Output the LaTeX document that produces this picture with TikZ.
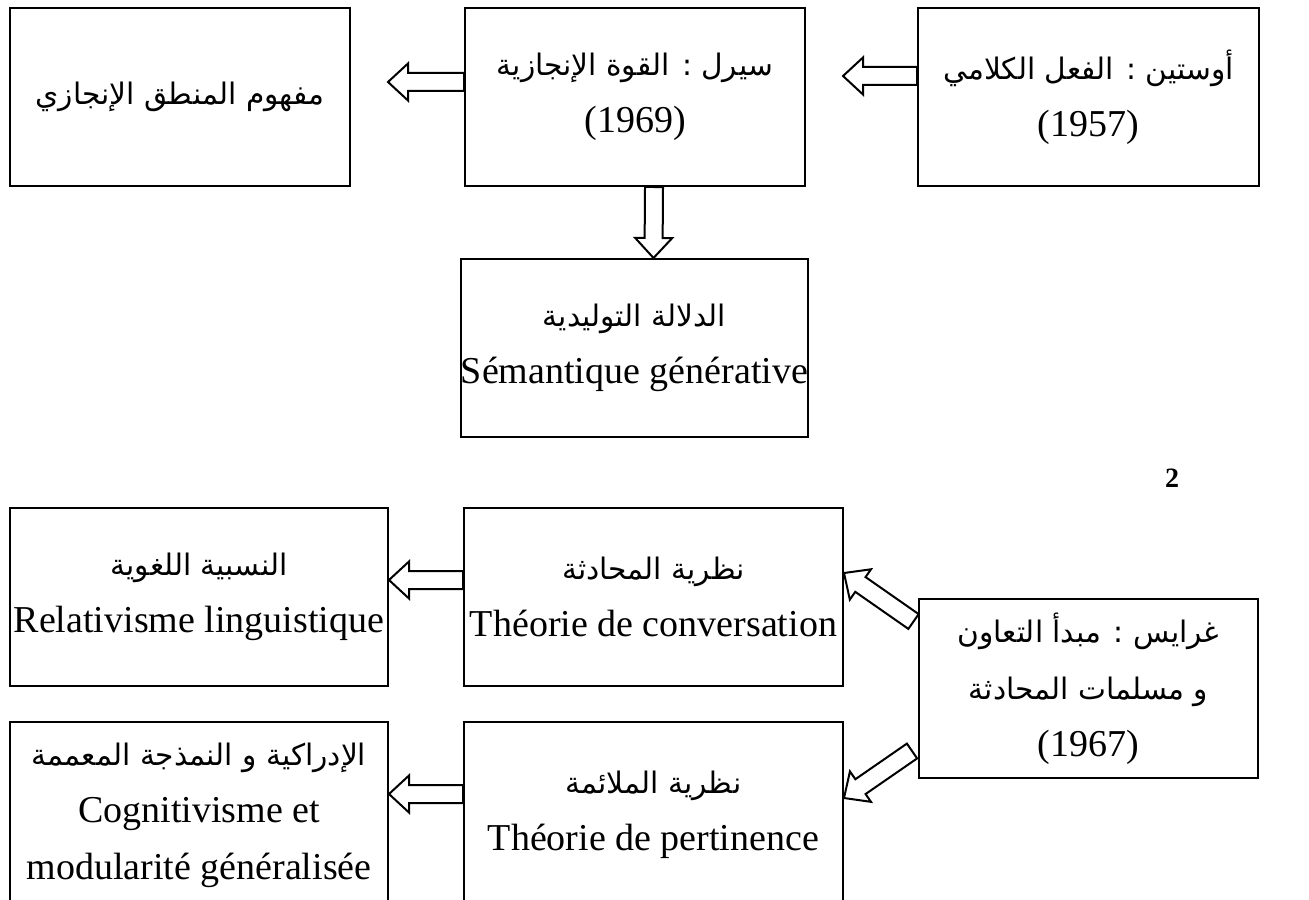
\documentclass[tikz,border=0pt]{standalone}
\usepackage{fontspec}
\setmainfont{Liberation Serif}
\newfontfamily\arabicfont[Script=Arabic,Scale=0.78]{DejaVu Sans}
\TeXXeTstate=1
\usetikzlibrary{calc}

\newcommand{\artext}[1]{{\arabicfont\beginR #1\endR}}
\newcommand{\blockarrow}[2]{%
  \coordinate (hb) at ($(#2)!10pt!(#1)$);
  \draw[arrowline] ($(#1)!4.5pt!90:(#2)$) -- ($(hb)!4.5pt!90:(#2)$)
    -- ($(hb)!9.25pt!90:(#2)$) -- (#2) -- ($(hb)!9.25pt!-90:(#2)$)
    -- ($(hb)!4.5pt!-90:(#2)$) -- ($(#1)!4.5pt!-90:(#2)$) -- cycle;}

\tikzset{
  box/.style={draw, line width=1pt, align=center, inner sep=0pt,
    minimum height=89pt, font=\fontsize{19}{28.5}\selectfont},
  arrowline/.style={draw, fill=white, line width=1pt, line join=miter}
}

\begin{document}
\begin{tikzpicture}[x=0.5pt,y=-0.5pt]
  \useasboundingbox (0,0) rectangle (1309,899);
  \clip (0,0) rectangle (1309,899);

  \node[box, minimum width=170pt] (A) at (180,97) {\artext{مفهوم المنطق الإنجازي}};
  \node[box, minimum width=170pt] (B) at (635,97) {\artext{سيرل : القوة الإنجازية}\\(1969)};
  \node[box, minimum width=170.5pt] (C) at (1088.5,97) {\artext{أوستين : الفعل الكلامي}\\(1957)};
  \node[box, minimum width=170.5pt] (D) at (634.5,348) {\artext{الدلالة التوليدية}\\Sémantique générative};

  \node[font=\bfseries\fontsize{14}{16}\selectfont] (num) at (1172,478) {2};

  \node[box, minimum width=189pt] (E) at (199,597) {\artext{النسبية اللغوية}\\Relativisme linguistique};
  \node[box, minimum width=189.5pt] (F) at (653.5,597) {\artext{نظرية المحادثة}\\Théorie de conversation};
  \node[box, minimum width=169.5pt, minimum height=89.5pt] (G) at (1088.5,688.5)
    {\artext{غرايس : مبدأ التعاون}\\\artext{و مسلمات المحادثة}\\(1967)};
  \node[box, minimum width=189pt, minimum height=93pt] (H) at (199,815)
    {\artext{الإدراكية و النمذجة المعممة}\\Cognitivisme et\\modularité généralisée};
  \node[box, minimum width=189.5pt, minimum height=93pt] (I) at (653.5,815)
    {\artext{نظرية الملائمة}\\Théorie de pertinence};

  \coordinate (ab-t) at ($(B.west)+(0,-15)$);
  \coordinate (ab-h) at (388,82);
  \coordinate (cb-t) at ($(C.west)+(0,-21)$);
  \coordinate (cb-h) at (843,76);
  \coordinate (bd-t) at ($(B.south)+(19,0)$);
  \coordinate (bd-h) at ($(D.north)+(19,0)$);
  \coordinate (fe-t) at ($(F.west)+(0,-17)$);
  \coordinate (fe-h) at ($(E.east)+(0,-17)$);
  \coordinate (ih-t) at ($(I.west)+(0,-21)$);
  \coordinate (ih-h) at ($(H.east)+(0,-21)$);
  \coordinate (gf-t) at ($(G.west)+(-4.5,-67)$);
  \coordinate (gf-h) at ($(F.east)+(0,-24)$);
  \coordinate (gi-t) at ($(G.west)+(-6,62.5)$);
  \coordinate (gi-h) at ($(I.east)+(0,-17)$);

  \blockarrow{ab-t}{ab-h}
  \blockarrow{cb-t}{cb-h}
  \blockarrow{bd-t}{bd-h}
  \blockarrow{fe-t}{fe-h}
  \blockarrow{ih-t}{ih-h}
  \blockarrow{gf-t}{gf-h}
  \blockarrow{gi-t}{gi-h}
\end{tikzpicture}
\end{document}
